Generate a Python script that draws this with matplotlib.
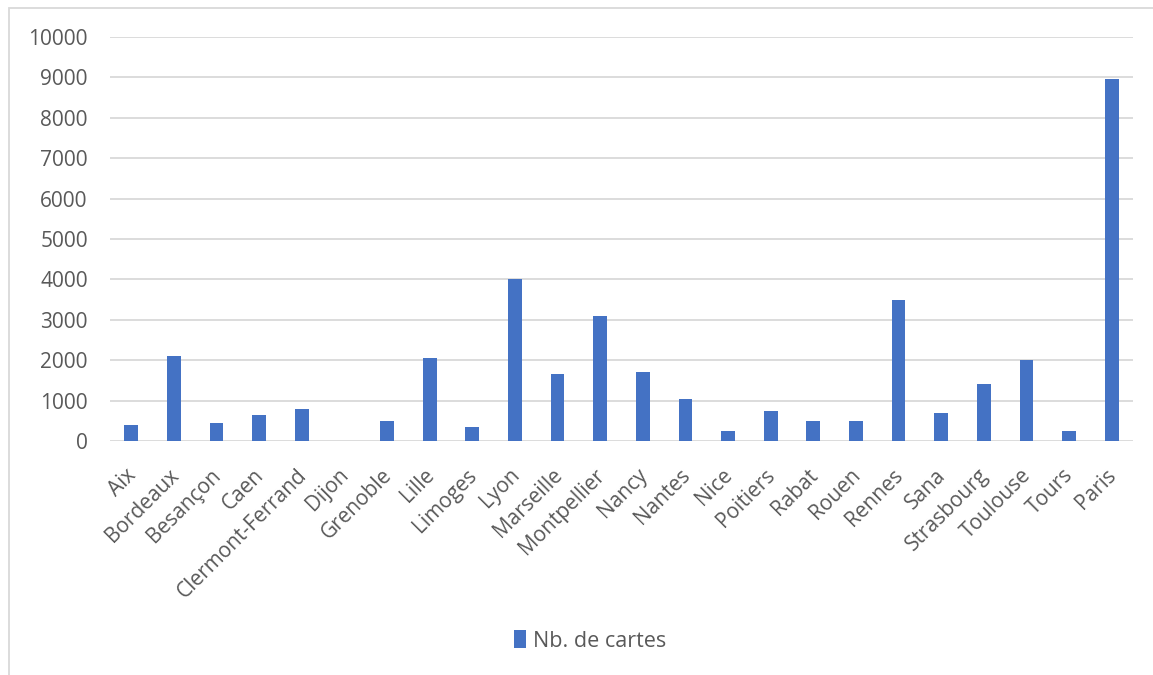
import matplotlib.pyplot as plt
import matplotlib.transforms as mtransforms
from matplotlib.patches import Rectangle

# Data
villes = ['Aix', 'Bordeaux', 'Besançon', 'Caen', 'Clermont-Ferrand', 'Dijon',
          'Grenoble', 'Lille', 'Limoges', 'Lyon', 'Marseille', 'Montpellier',
          'Nancy', 'Nantes', 'Nice', 'Poitiers', 'Rabat', 'Rouen', 'Rennes',
          'Sana', 'Strasbourg', 'Toulouse', 'Tours', 'Paris']
nb_cartes = [400, 2100, 450, 650, 800, 0,
             500, 2050, 350, 4000, 1650, 3100,
             1700, 1050, 250, 750, 500, 500, 3500,
             700, 1400, 2000, 250, 8950]
y_ticks = list(range(0, 10001, 1000))

plt.rcParams['font.family'] = ['Open Sans', 'DejaVu Sans']

fig = plt.figure(figsize=(11.53, 6.75), dpi=100)
W, H = 1153, 675
ax = fig.add_axes([110 / W, 1 - 441 / H, (1133 - 110) / W, (441 - 37) / H])

x = range(len(villes))
ax.bar(x, nb_cartes, width=0.32, color='#4472C4', label='Nb. de cartes', zorder=3)

ax.set_xlim(-0.5, len(villes) - 0.5)
ax.set_ylim(0, 10000)
ax.set_yticks(y_ticks)
ax.set_yticklabels([str(t) for t in y_ticks], fontsize=15, color='#595959')
ax.set_xticks(list(x))
ax.set_xticklabels(villes, rotation=45, ha='right', rotation_mode='anchor',
                   fontsize=15, color='#595959')
ax.tick_params(axis='both', length=0)
ax.tick_params(axis='y', pad=16)
ax.tick_params(axis='x', pad=17)
ax.grid(axis='y', color='#D9D9D9', linewidth=1.3, zorder=0)
for s in ax.spines.values():
    s.set_visible(False)

# nudge the rotated labels a little to the left
shift = mtransforms.ScaledTranslation(-6 / 100, 0, fig.dpi_scale_trans)
for lab in ax.get_xticklabels():
    lab.set_transform(lab.get_transform() + shift)

# chart border
fig.patches.append(Rectangle((9 / W, -0.01), 1.02, 1 - 8 / H + 0.01,
                             transform=fig.transFigure, fill=False,
                             edgecolor='#D9D9D9', linewidth=1.3))

fig.legend(loc='center', bbox_to_anchor=(590 / W, 1 - 641 / H), frameon=False,
           fontsize=15.5, handlelength=0.55, handleheight=0.85, handletextpad=0.3,
           labelcolor='#595959')

fig.savefig('out.png', dpi=100)
